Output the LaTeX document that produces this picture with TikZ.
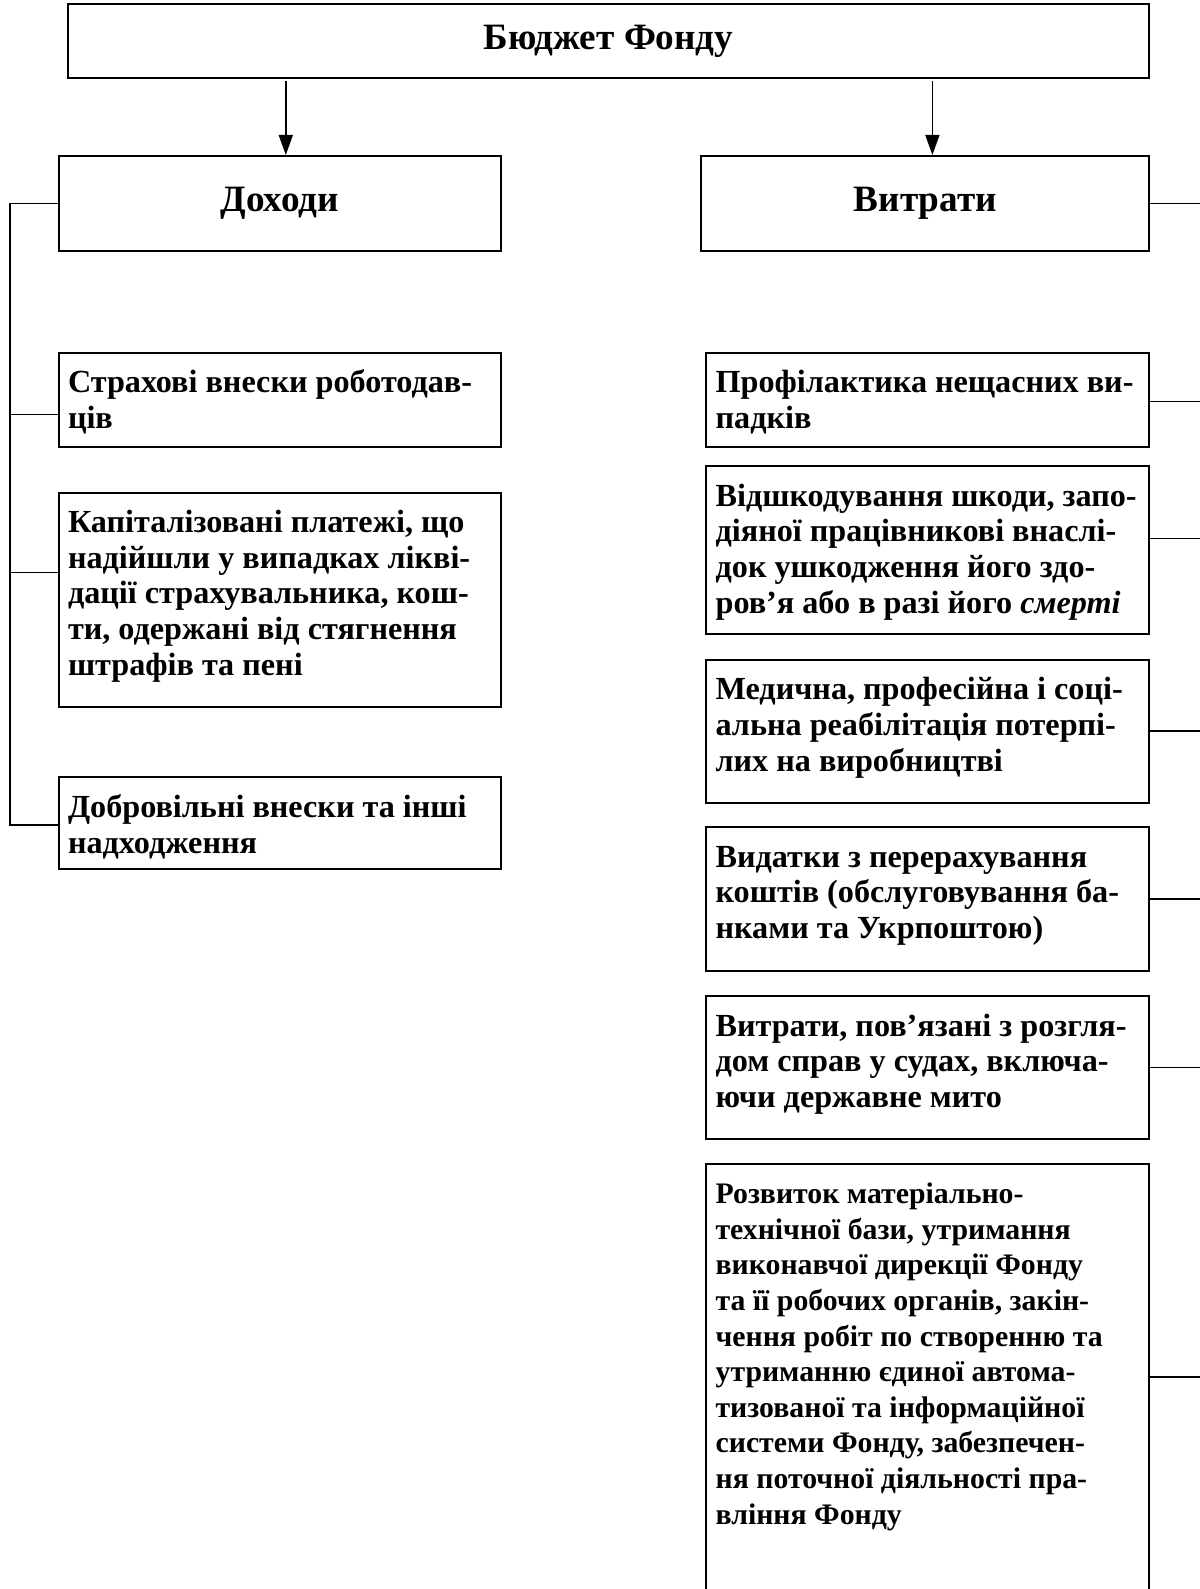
\documentclass[tikz,border=0pt]{standalone}
\usepackage{fontspec}
\setmainfont{Liberation Serif}
\usetikzlibrary{arrows.meta,calc}
\newcommand\tb[3]{\parbox[c][#2][t]{#1}{\leftskip=0pt\rightskip=-30pt plus 1fil\parfillskip=0pt plus 1fil\rule{0pt}{20pt}#3}}
\tikzset{
  box/.style={draw, line width=1pt, inner xsep=4.6pt, inner ysep=0pt, anchor=north west,
    font=\fontsize{16.1}{17.8}\selectfont\bfseries},
  smallbox/.style={box, font=\fontsize{14.9}{17.8}\selectfont\bfseries},
  headbox/.style={draw, line width=1pt, inner sep=0pt, anchor=north west,
    font=\fontsize{18.6}{21}\selectfont\bfseries},
  conn/.style={line width=0.75pt},
  arr/.style={line width=0.75pt, -{Triangle[length=10pt,width=7pt]}}
}
\begin{document}
\begin{tikzpicture}[x=1pt,y=-1pt]
\useasboundingbox[fill=white] (0,0) rectangle (599.5,794.5);
% top
\node[headbox, minimum width=540.8pt, minimum height=37pt] (top) at (33.4,1.5) {Бюджет Фонду};
\node[headbox, minimum width=220.9pt, minimum height=47.7pt] (doh) at (28.9,77.5) {Доходи};
\node[headbox, minimum width=224pt, minimum height=47.7pt] (vyt) at (350.2,77.5) {Витрати};
\coordinate (a1) at (142.9,40.5);
\coordinate (a2) at (466.2,40.5);
\draw[arr] (a1) -- (a1 |- doh.north);
\draw[arr] (a2) -- (a2 |- vyt.north);
% left boxes
\node[box] (l1) at (28.9,175.8) {\tb{211.7pt}{47.2pt}{Страхові внески роботодав-\\ців}};
\node[box] (l2) at (28.9,245.8) {\tb{211.7pt}{107.4pt}{Капіталізовані платежі, що\\надійшли у випадках лікві-\\дації страхувальника, кош-\\ти, одержані від стягнення\\штрафів та пені}};
\node[box] (l3) at (28.9,388.2) {\tb{211.7pt}{45.6pt}{Добровільні внески та інші\\надходження}};
% right boxes
\node[box] (r1) at (352.7,175.8) {\tb{212.3pt}{47.2pt}{Профілактика нещасних ви-\\падків}};
\node[box] (r2) at (352.7,232.6) {\tb{212.3pt}{84.1pt}{Відшкодування шкоди, запо-\\діяної працівникові внаслі-\\док ушкодження його здо-\\ров’я або в разі його \textit{смерті}}};
\node[box] (r3) at (352.7,329.4) {\tb{212.3pt}{71.4pt}{Медична, професійна і соці-\\альна реабілітація потерпі-\\лих на виробництві}};
\node[box] (r4) at (352.7,413.0) {\tb{212.3pt}{72pt}{Видатки з перерахування\\коштів (обслуговування ба-\\нками та Укрпоштою)}};
\node[box] (r5) at (352.7,497.6) {\tb{212.3pt}{71.5pt}{Витрати, пов’язані з розгля-\\дом справ у судах, включа-\\ючи державне мито}};
\node[smallbox] (r6) at (352.7,581.3) {\tb{212.3pt}{222pt}{Розвиток матеріально-\\технічної бази, утримання\\виконавчої дирекції Фонду\\та її робочих органів, закін-\\чення робіт по створенню та\\утриманню єдиної автома-\\тизованої та інформаційної\\системи Фонду, забезпечен-\\ня поточної діяльності пра-\\вління Фонду}};
% left trunk
\coordinate (lt) at (5.1,0);
\coordinate (p1) at ($(l1.north west)!0.65!(l1.south west)$);
\coordinate (p2) at ($(l2.north west)!0.372!(l2.south west)$);
\coordinate (p3) at ($(l3.north west)!0.52!(l3.south west)$);
\draw[conn] (doh.west) -- (doh.west -| lt) -- (p3 -| lt) -- (p3);
\draw[conn] (p1 -| lt) -- (p1);
\draw[conn] (p2 -| lt) -- (p2);
% right stubs
\coordinate (rt) at (601,0);
\coordinate (q0) at (vyt.east);
\coordinate (q1) at ($(r1.north east)!0.52!(r1.south east)$);
\coordinate (q2) at ($(r2.north east)!0.43!(r2.south east)$);
\coordinate (q3) at (r3.east);
\coordinate (q4) at (r4.east);
\coordinate (q5) at (r5.east);
\coordinate (q6) at (r6.north east |- 0,688.5);
\foreach \q in {q0,q1,q2,q3,q4,q5,q6} {\draw[conn] (\q) -- (\q -| rt);}
\end{tikzpicture}
\end{document}
